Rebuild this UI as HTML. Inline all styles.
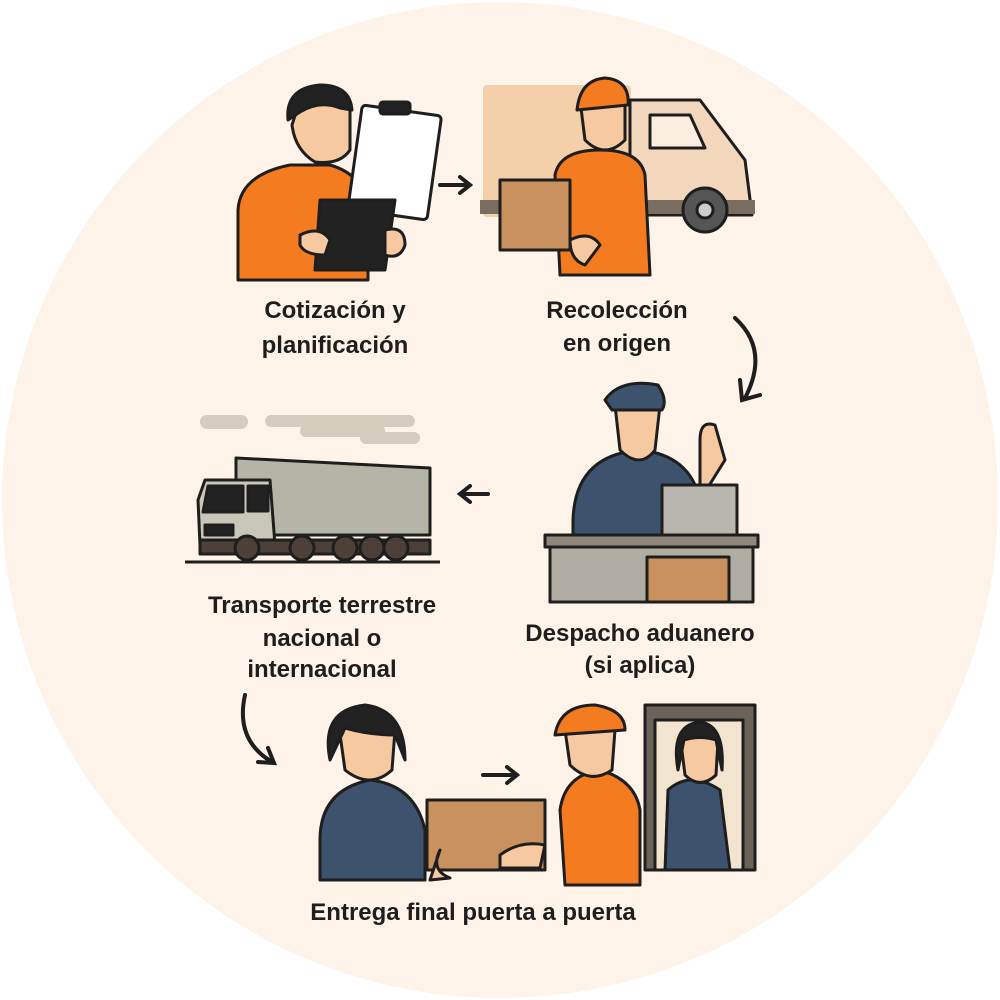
<!DOCTYPE html>
<html><head><meta charset="utf-8"><style>
html,body{margin:0;padding:0;background:#fff}
svg{display:block}
text{font-family:"Liberation Sans",sans-serif;font-weight:bold;fill:#1e1e1e;font-size:24px;text-anchor:middle}
</style></head><body>
<svg width="1000" height="1000" viewBox="0 0 1000 1000" xmlns="http://www.w3.org/2000/svg">
<circle cx="500" cy="500" r="498" fill="#fdf3e8"/>
<g stroke="#1e1e1e" stroke-width="3" stroke-linejoin="round" stroke-linecap="round">
<!-- Step 1 person -->
<path d="M238 280 L238 210 Q240 175 290 165 L330 165 Q365 175 368 210 L368 280 Z" fill="#f47b20"/>
<path d="M300 100 Q330 80 350 110 L350 150 Q340 165 315 162 Q295 150 292 125 Z" fill="#f7c9a0"/>
<path d="M288 120 Q285 88 320 85 Q350 85 352 110 L340 108 Q320 100 300 112 Z" fill="#222"/>
<rect x="355" y="110" width="80" height="105" rx="4" fill="#fff" transform="rotate(8 395 160)"/>
<rect x="380" y="102" width="30" height="12" rx="3" fill="#222"/>
<path d="M320 200 L395 200 L385 270 L315 270 Z" fill="#222"/>
<path d="M300 235 Q320 225 330 240 L325 255 Q305 255 300 245Z" fill="#f7c9a0"/>
<path d="M385 230 Q405 225 405 245 Q400 260 385 255Z" fill="#f7c9a0"/>
<!-- Step 2 truck -->
<rect x="483" y="85" width="148" height="132" rx="4" fill="#f3cfaa" stroke="none"/>
<path d="M630 100 L700 100 L745 160 L752 215 L630 215Z" fill="#f3d7bd"/>
<path d="M650 115 L690 115 L705 148 L650 148Z" fill="#fbeee0"/>
<rect x="480" y="200" width="275" height="14" fill="#7a6e60" stroke="none"/>
<circle cx="705" cy="210" r="22" fill="#555"/><circle cx="705" cy="210" r="8" fill="#ccc"/>
<path d="M555 175 Q560 150 600 150 Q640 150 645 175 L650 275 L560 275Z" fill="#f47b20"/>
<path d="M580 100 Q605 80 625 100 L625 140 Q605 160 585 140Z" fill="#f7c9a0"/>
<path d="M577 110 Q580 80 605 78 Q630 80 628 105 Z" fill="#f47b20"/>
<rect x="500" y="180" width="70" height="70" fill="#c8915e"/>
<path d="M570 240 Q590 230 600 245 L585 265 Q570 260 570 240Z" fill="#f7c9a0"/>
</g>
<!-- arrows -->
<g stroke="#1e1e1e" stroke-width="4" fill="none" stroke-linecap="round">
<path d="M440 185 L470 185 M460 177 L470 185 L460 193"/>
<path d="M735 318 Q770 350 745 398 M740 380 L742 400 L760 395"/>
<path d="M488 494 L460 494 M470 486 L460 494 L470 502"/>
<path d="M245 695 Q235 740 272 762 M258 762 L274 763 L268 748"/>
<path d="M483 775 L517 775 M507 767 L517 775 L507 783"/>
</g>
<!-- clouds -->
<g fill="#d6ccbd">
<rect x="200" y="415" width="48" height="14" rx="7"/><rect x="265" y="415" width="150" height="12" rx="6"/><rect x="300" y="425" width="85" height="12" rx="6"/><rect x="360" y="432" width="60" height="12" rx="6"/>
</g>
<g stroke="#1e1e1e" stroke-width="3" stroke-linejoin="round">
<!-- truck 3 -->
<path d="M236 458 L430 468 L430 535 L236 535Z" fill="#b4b5a6"/>
<path d="M205 480 L270 480 L275 545 L200 545 L198 500Z" fill="#c9c7b8"/>
<path d="M208 486 L243 486 L243 512 L203 512Z" fill="#222"/><rect x="248" y="486" width="20" height="25" fill="#222"/>
<rect x="205" y="525" width="28" height="10" fill="#222"/>
<rect x="200" y="540" width="230" height="14" fill="#4d4038"/>
<line x1="185" y1="562" x2="440" y2="562" stroke-width="3"/>
<circle cx="247" cy="548" r="12" fill="#4d4038"/><circle cx="302" cy="548" r="12" fill="#4d4038"/><circle cx="345" cy="548" r="12" fill="#4d4038"/><circle cx="372" cy="548" r="12" fill="#4d4038"/><circle cx="396" cy="548" r="12" fill="#4d4038"/>
<!-- customs -->
<path d="M573 520 Q575 455 640 450 Q690 455 700 500 L700 535 L573 535Z" fill="#3c526d"/>
<path d="M615 405 Q640 395 660 405 L655 450 Q640 470 620 450Z" fill="#f7c9a0"/>
<path d="M605 400 Q620 378 658 385 Q668 400 662 410 L612 410Z" fill="#3c526d"/>
<path d="M700 440 Q700 420 715 425 L725 460 L700 500Z" fill="#f7c9a0"/>
<rect x="662" y="485" width="75" height="50" fill="#b8b6ae"/>
<rect x="545" y="535" width="213" height="12" fill="#8f877a"/>
<rect x="550" y="547" width="203" height="55" fill="#b1ada2"/>
<rect x="647" y="557" width="82" height="45" fill="#c8915e"/>
<!-- delivery -->
<path d="M320 840 Q320 790 370 780 Q415 785 425 830 L425 880 L320 880Z" fill="#3c526d"/>
<path d="M338 720 Q370 700 395 730 L392 770 Q370 790 345 770Z" fill="#f7c9a0"/>
<path d="M330 760 Q320 710 365 705 Q405 710 405 760 L395 735 Q370 735 345 728 Z" fill="#222"/>
<rect x="427" y="800" width="118" height="70" fill="#c8915e"/>
<path d="M560 810 Q565 775 600 770 Q635 780 640 810 L640 885 L565 885Z" fill="#f47b20"/>
<path d="M565 730 Q590 710 615 730 L612 770 Q590 785 570 765Z" fill="#f7c9a0"/>
<path d="M555 735 Q560 705 595 705 Q625 710 625 730Z" fill="#f47b20"/>
<path d="M440 850 Q430 870 450 878 L430 880Z" fill="#f7c9a0"/>
<path d="M500 855 Q520 840 545 845 L540 868 L500 868Z" fill="#f7c9a0"/>
<rect x="645" y="705" width="110" height="165" fill="#6b6358"/>
<rect x="655" y="720" width="88" height="150" fill="#f3e4d0"/>
<path d="M668 790 Q690 770 720 790 L730 870 L665 870Z" fill="#3c526d"/>
<path d="M680 735 Q700 720 718 740 L716 775 Q700 790 685 775Z" fill="#f7c9a0"/>
<path d="M678 770 Q670 725 700 722 Q725 725 722 770 L716 740 Q700 735 684 740Z" fill="#222"/>
</g>
<text x="335" y="318">Cotización y</text>
<text x="335" y="353">planificación</text>
<text x="617" y="318">Recolección</text>
<text x="617" y="351">en origen</text>
<text x="322" y="613">Transporte terrestre</text>
<text x="322" y="646">nacional o</text>
<text x="322" y="677">internacional</text>
<text x="640" y="641">Despacho aduanero</text>
<text x="640" y="673">(si aplica)</text>
<text x="473" y="920">Entrega final puerta a puerta</text>
</svg>
</body></html>
